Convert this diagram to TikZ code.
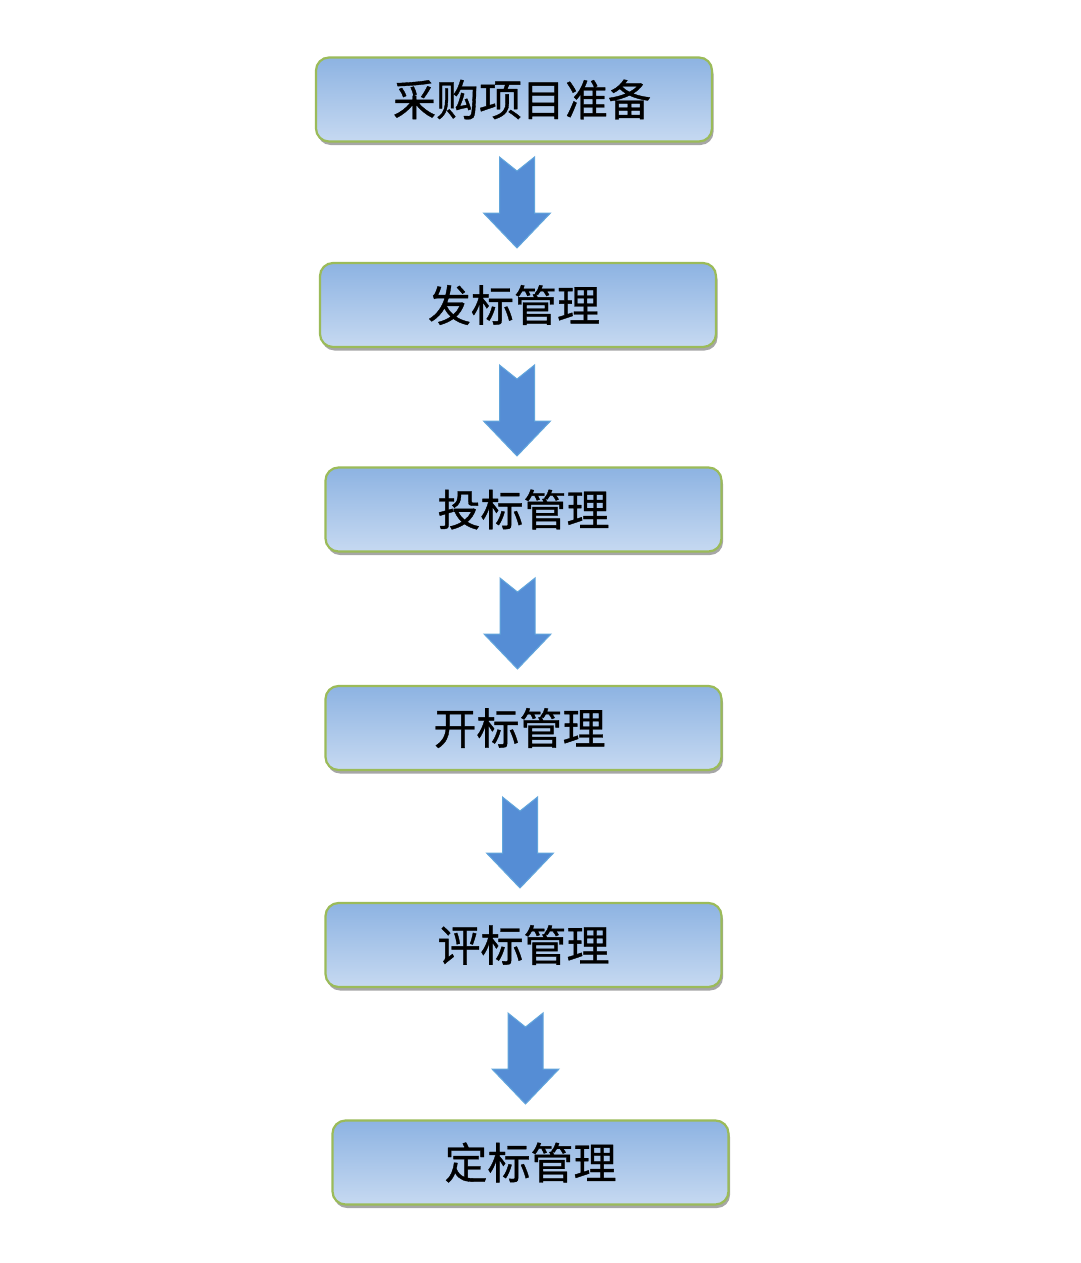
\documentclass[tikz,border=0pt]{standalone}
\usepackage{fontspec}
\setmainfont{Noto Sans CJK SC}
\newfontfamily\boxfont[FakeBold=0.8]{Noto Sans CJK SC}
\usetikzlibrary{shadows,shadings}
\definecolor{boxtop}{RGB}{141,179,226}
\definecolor{boxbot}{RGB}{198,217,241}
\definecolor{boxline}{RGB}{155,187,89}
\definecolor{arrowfill}{RGB}{85,141,213}
\definecolor{arrowedge}{RGB}{98,166,220}
\tikzset{
  stepbox/.style={rectangle, rounded corners=13pt, minimum width=396pt, minimum height=84pt,
    top color=boxtop, bottom color=boxbot, draw=boxline, line width=2.2pt,
    drop shadow={shadow xshift=1.5pt, shadow yshift=-3.5pt, fill=black, opacity=0.35},
    font=\boxfont\fontsize{43}{50}\selectfont, text=black, inner sep=0pt},
  blockarrow/.pic={
    \fill[arrowfill, draw=arrowedge, line width=1pt, line join=miter]
      (-17.5,0) -- (0,14) -- (17.5,0) -- (17.5,56) -- (33.5,56) -- (0,91)
      -- (-33.5,56) -- (-17.5,56) -- cycle;
  }
}
\begin{document}
\begin{tikzpicture}[x=1pt,y=-1pt]
\useasboundingbox[fill=white] (0,0) rectangle (1080,1263);
\node[stepbox] (b1) at (514,99.5) {\hspace*{16pt}采购项目准备};
\node[stepbox] (b2) at (518,305) {发标管理\hspace*{8pt}};
\node[stepbox] (b3) at (523.5,509.5) {投标管理};
\node[stepbox] (b4) at (523.5,728) {开标管理\hspace*{8pt}};
\node[stepbox] (b5) at (523.5,945) {评标管理};
\node[stepbox] (b6) at (530.5,1162.5) {定标管理};
\coordinate (a1) at (517,157);
\coordinate (a2) at (517,365);
\coordinate (a3) at (517.5,578);
\coordinate (a4) at (520,797);
\coordinate (a5) at (525.5,1013);
\foreach \a in {a1,a2,a3,a4,a5} { \pic at (\a) {blockarrow}; }
\end{tikzpicture}
\end{document}
